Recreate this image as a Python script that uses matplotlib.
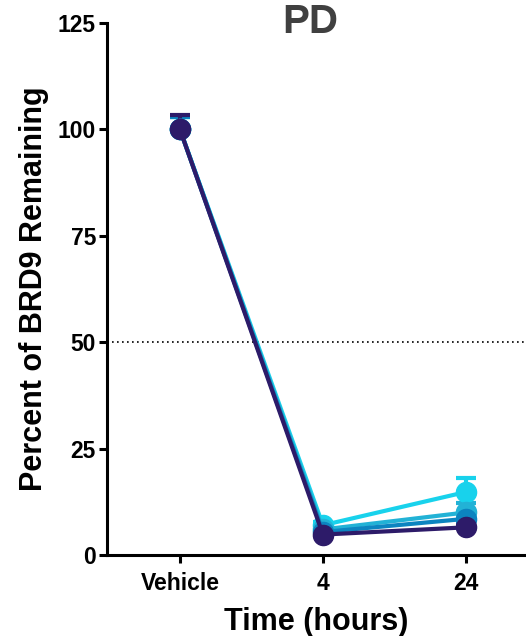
import matplotlib
matplotlib.use("Agg")
import matplotlib.pyplot as plt
import numpy as np

plt.rcParams['font.family'] = ['Liberation Sans', 'DejaVu Sans']
plt.rcParams['font.weight'] = 'bold'

categories = ["Vehicle", "4", "24"]
series_colors = ["#18d2ec", "#22b2d6", "#0c84c0", "#2d1b69"]
values_cyan = [100.0, 7.0, 14.8]
values_light = [100.0, 6.0, 10.0]
values_mid = [100.0, 5.4, 8.5]
values_dark = [100.0, 4.8, 6.5]
err_cyan = [3.0, 0.8, 3.4]
err_light = [3.0, 0.6, 2.2]
err_mid = [3.0, 0.5, 1.2]
err_dark = [3.5, 0.5, 0.8]
yticks = [0, 25, 50, 75, 100, 125]
threshold = 50

series = [values_cyan, values_light, values_mid, values_dark]
errors = [err_cyan, err_light, err_mid, err_dark]

fig = plt.figure(figsize=(5.26, 6.36), dpi=100)
ax = fig.add_axes([107/526, 1-555/636, 1-107/526, (555-23)/636])

x = np.arange(len(categories))
for vals, errs, col in zip(series, errors, series_colors):
    vals = np.array(vals)
    errs = np.array(errs)
    ax.errorbar(x, vals, yerr=[np.zeros_like(errs), errs], color=col, lw=3,
                marker='o', markersize=14.5, capsize=7, capthick=3, elinewidth=3,
                zorder=3)

ax.axhline(threshold, color='black', ls=(0, (1, 2)), lw=1.2, zorder=1)

ax.set_xlim(-0.51, 2.42)
ax.set_ylim(0, 125)
ax.set_xticks(x)
ax.set_xticklabels(categories)
ax.set_yticks(yticks)
for s in ['top', 'right']:
    ax.spines[s].set_visible(False)
for s in ['left', 'bottom']:
    ax.spines[s].set_linewidth(2.2)
ax.tick_params(axis='both', width=2.2, length=6, labelsize=16.5, pad=2)
ax.tick_params(axis='x', pad=6)
for lab in ax.get_xticklabels() + ax.get_yticklabels():
    lab.set_fontweight('bold')

ax.set_ylabel("Percent of BRD9 Remaining", fontsize=22, fontweight='bold', labelpad=6)
ax.set_xlabel("Time (hours)", fontsize=22, fontweight='bold', labelpad=9)
fig.text(310/526, 1-22/636, "PD", ha='center', va='center', fontsize=29,
         fontweight='bold', color='#404040')

fig.savefig("out.png", dpi=100)
